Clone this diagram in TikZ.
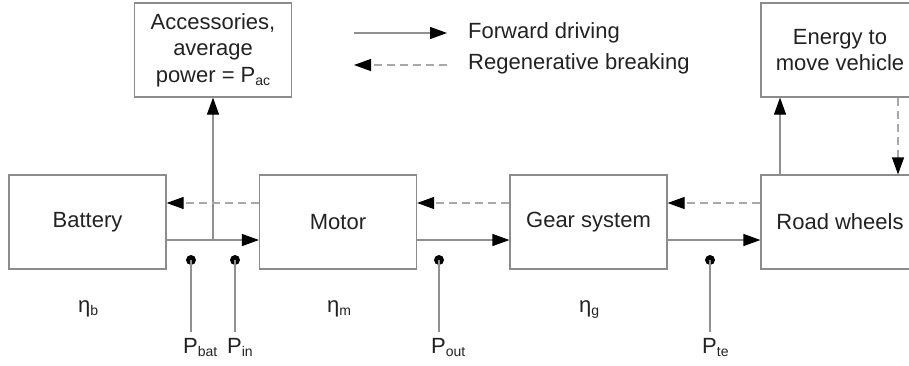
\documentclass[tikz,border=0pt]{standalone}
\usepackage{fontspec}
\setmainfont{Liberation Sans}
\usetikzlibrary{arrows.meta}
\definecolor{boxgray}{HTML}{8C8C8C}
\definecolor{linegray}{HTML}{909090}
\definecolor{dashgray}{HTML}{A8A8A8}
\definecolor{txt}{HTML}{222222}
\newcommand\mysub[1]{\raisebox{-3pt}{\fontsize{14}{14}\selectfont #1}}
\begin{document}
\begin{tikzpicture}[x=1pt,y=-1pt,
 box/.style={draw=boxgray, line width=1.2pt, minimum width=157pt, minimum height=94pt, inner sep=0pt, text=txt, font=\fontsize{22}{26.5}\selectfont, align=center},
 fwd/.style={draw=linegray, line width=1.2pt, -{Triangle[length=17pt,width=12pt,color=black]}},
 bwd/.style={draw=dashgray, line width=1.2pt, dash pattern=on 8pt off 5pt, -{Triangle[length=17pt,width=12pt,color=black]}},
 pin/.style={draw=linegray, line width=1.2pt},
 lbl/.style={text=txt, font=\fontsize{22}{24}\selectfont, inner sep=0pt},
 dot/.style={circle, fill=black, inner sep=0pt, minimum size=10pt}]
\clip (0,0) rectangle (909,365);
\useasboundingbox (0,0) rectangle (909,365);
% boxes
\node[box] (bat) at (87.5,222) {Battery};
\node[box] (mot) at (338,222) {Motor};
\node[box] (gear) at (588.5,222) {Gear system};
\node[box, minimum width=158pt] (road) at (840,222) {Road wheels};
\node[box] (acc) at (213,50) {Accessories,\\average\\power = P\mysub{ac}};
\node[box, minimum width=158pt] (energy) at (840,50) {Energy to\\move vehicle};
% forward arrows
\coordinate (j) at (213,240);
\draw[pin] ([yshift=-18pt]bat.east) -- (j);
\draw[fwd] (j) -- ([yshift=-18pt]mot.west);
\draw[fwd] (j) -- (acc.south);
\draw[fwd] ([yshift=-18pt]mot.east) -- ([yshift=-18pt]gear.west);
\draw[fwd] ([yshift=-18pt]gear.east) -- ([yshift=-18pt]road.west);
\draw[fwd] ([xshift=-60pt]road.north) -- ([xshift=-60pt]energy.south);
% regenerative arrows
\draw[bwd] ([yshift=19pt]mot.west) -- ([yshift=19pt]bat.east);
\draw[bwd] ([yshift=19pt]gear.west) -- ([yshift=19pt]mot.east);
\draw[bwd] ([yshift=19pt]road.west) -- ([yshift=19pt]gear.east);
\draw[bwd] ([xshift=58pt]energy.south) -- ([xshift=58pt]road.north);
% legend
\coordinate (l1a) at (354,33); \coordinate (l1b) at (447,33);
\coordinate (l2a) at (447,65); \coordinate (l2b) at (354,65);
\draw[fwd] (l1a) -- (l1b);
\draw[bwd] (l2a) -- (l2b);
\node[lbl, anchor=west] (t1) at (468,33) {Forward driving};
\node[lbl, anchor=west] (t2) at (468,64) {Regenerative breaking};
% measurement points
\node[dot] (d1) at (191,260) {};
\node[dot] (d2) at (235,260) {};
\node[dot] (d3) at (439,260) {};
\node[dot] (d4) at (710,260) {};
\coordinate (e1) at (191,332); \coordinate (e2) at (235,332);
\coordinate (e3) at (439,332); \coordinate (e4) at (710,332);
\draw[pin] (d1.center) -- (e1);
\draw[pin] (d2.center) -- (e2);
\draw[pin] (d3.center) -- (e3);
\draw[pin] (d4.center) -- (e4);
\node[lbl, anchor=base west] (pbat) at (183,353) {P\mysub{bat}};
\node[lbl, anchor=base west] (pin) at (227,353) {P\mysub{in}};
\node[lbl, anchor=base west] (pout) at (431,353) {P\mysub{out}};
\node[lbl, anchor=base west] (pte) at (702,353) {P\mysub{te}};
% efficiencies
\node[lbl, anchor=base west] (etab) at (78,312) {η\mysub{b}};
\node[lbl, anchor=base west] (etam) at (327,312) {η\mysub{m}};
\node[lbl, anchor=base west] (etag) at (579,312) {η\mysub{g}};
\end{tikzpicture}
\end{document}
